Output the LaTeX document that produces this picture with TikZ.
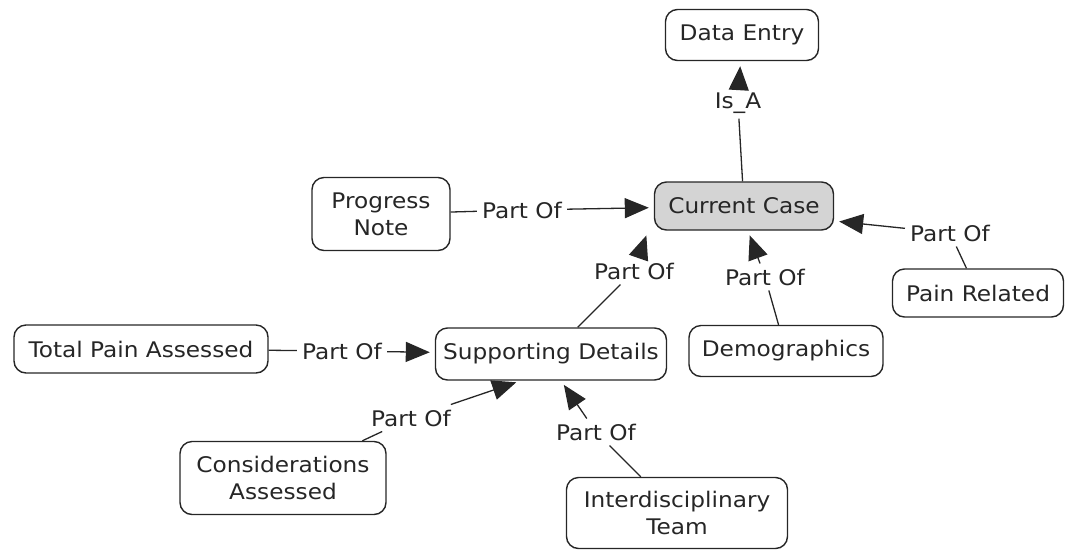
\documentclass[tikz,border=0pt]{standalone}
\usepackage{fontspec}
\setmainfont[FakeStretch=1.08]{DejaVu Sans}
\usetikzlibrary{arrows.meta,calc}
\begin{document}
\begin{tikzpicture}[x=1pt,y=-1pt,
  concept/.style={draw=black!85, line width=1.4pt, rounded corners=12pt, align=center,
    font=\fontsize{21.5}{27}\selectfont, text=black!85, inner sep=0pt},
  lab/.style={font=\fontsize{21.5}{24}\selectfont, text=black!85, inner sep=5pt},
  link/.style={draw=black!85, line width=1.3pt},
  arr/.style={link, -{Triangle[length=24pt,width=20pt]}, shorten >=5pt}]
\useasboundingbox (0,0) rectangle (1066,550);
% concepts
\node[concept, minimum width=153pt, minimum height=51pt] (de) at (742,35) {Data Entry};
\node[concept, minimum width=179pt, minimum height=48pt, fill=black!17] (cc) at (744,206) {Current Case};
\node[concept, minimum width=138pt, minimum height=73pt] (pn) at (381,214) {Progress\\Note};
\node[concept, minimum width=171pt, minimum height=48pt] (pr) at (978,293) {Pain Related};
\node[concept, minimum width=231pt, minimum height=52pt] (sd) at (551,354) {Supporting Details};
\node[concept, minimum width=194pt, minimum height=51pt] (dm) at (786,351) {Demographics};
\node[concept, minimum width=254pt, minimum height=48pt] (tp) at (141,349) {Total Pain Assessed};
\node[concept, minimum width=206pt, minimum height=73pt] (ca) at (283,478) {Considerations\\Assessed};
\node[concept, minimum width=221pt, minimum height=71pt] (it) at (677,513) {Interdisciplinary\\Team};
% link labels
\node[lab] (l1) at (738,103) {Is\_A};
\node[lab] (l2) at (522,210) {Part Of};
\node[lab] (l3) at (950,233) {Part Of};
\node[lab] (l4) at (634,271) {Part Of};
\node[lab] (l5) at (765,277) {Part Of};
\node[lab] (l6) at (342,351) {Part Of};
\node[lab] (l7) at (411,418) {Part Of};
\node[lab] (l8) at (596,432) {Part Of};
% target points on concept borders
\coordinate (cc4) at ($(cc.south)+(-96,0)$);
\coordinate (cc5) at ($(cc.south)+(4,0)$);
\coordinate (cc3) at ($(cc.east)+(0,15)$);
\coordinate (sd7) at ($(sd.south)+(-30,0)$);
\coordinate (sd8) at ($(sd.south)+(10,0)$);
% connectors
\draw[link] (cc) -- (l1);  \draw[arr] (l1) -- (de);
\draw[link] (pn) -- (l2);  \draw[arr] (l2) -- (cc);
\draw[link] (pr) -- (l3);  \draw[arr] (l3) -- (cc3);
\draw[link] (sd) -- (l4);  \draw[arr] (l4) -- (cc4);
\draw[link] (dm) -- (l5);  \draw[arr] (l5) -- (cc5);
\draw[link] (tp) -- (l6);  \draw[arr] (l6) -- (sd);
\draw[link] (ca) -- (l7);  \draw[arr] (l7) -- (sd7);
\draw[link] (it) -- (l8);  \draw[arr] (l8) -- (sd8);
\end{tikzpicture}
\end{document}
